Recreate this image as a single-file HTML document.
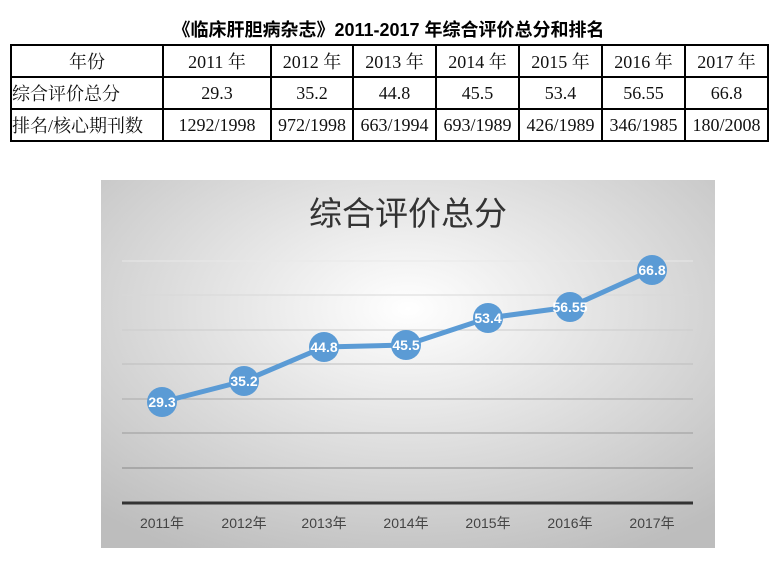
<!DOCTYPE html>
<html><head><meta charset="utf-8"><style>
body{margin:0;background:#fff;width:777px;height:565px;position:relative;overflow:hidden;font-family:"Liberation Serif","Noto Serif CJK SC",serif}
.title{position:absolute;left:0;width:777px;top:16px;text-align:center;font:bold 18px "Liberation Sans","Noto Sans CJK SC",sans-serif;color:#000}
table{position:absolute;left:10px;top:44px;border-collapse:collapse}
td{border:2px solid #000;height:30px;padding:0;text-align:center;font-size:18px;color:#111;white-space:nowrap;font-family:"Liberation Serif","Noto Serif CJK SC",serif}
td.h{text-align:left}
</style></head><body>
<div class="title">《临床肝胆病杂志》2011-2017 年综合评价总分和排名</div>
<table>
<tr><td style="width:150px;text-align:center">年份</td><td style="width:106px">2011 年</td><td style="width:80px">2012 年</td><td style="width:81px">2013 年</td><td style="width:81px">2014 年</td><td style="width:81px">2015 年</td><td style="width:81px">2016 年</td><td style="width:81px">2017 年</td></tr>
<tr><td class="h">综合评价总分</td><td>29.3</td><td>35.2</td><td>44.8</td><td>45.5</td><td>53.4</td><td>56.55</td><td>66.8</td></tr>
<tr><td class="h">排名/核心期刊数</td><td>1292/1998</td><td>972/1998</td><td>663/1994</td><td>693/1989</td><td>426/1989</td><td>346/1985</td><td>180/2008</td></tr>
</table>
<svg style="position:absolute;left:0;top:0" width="777" height="565">
<defs><radialGradient id="g" cx="0.5" cy="0.35" r="0.75"><stop offset="0" stop-color="#ffffff"/><stop offset="1" stop-color="#bdbdbd"/></radialGradient></defs>
<rect x="101" y="180" width="614" height="368" fill="url(#g)"/>
<g stroke="#9a9a9a" stroke-width="1">
<line x1="122" x2="693" y1="261" y2="261" stroke="#e8e8e8"/>
<line x1="122" x2="693" y1="295" y2="295" stroke="#d8d8d8"/>
<line x1="122" x2="693" y1="330" y2="330" stroke="#cccccc"/>
<line x1="122" x2="693" y1="364" y2="364" stroke="#bdbdbd"/>
<line x1="122" x2="693" y1="399" y2="399" stroke="#aaaaaa"/>
<line x1="122" x2="693" y1="433" y2="433"/>
<line x1="122" x2="693" y1="468" y2="468" stroke="#888"/>
</g>
<line x1="122" x2="693" y1="503" y2="503" stroke="#333" stroke-width="3"/>
<text x="408" y="225" text-anchor="middle" font-family="Liberation Sans,Noto Sans CJK SC,sans-serif" font-size="33" fill="#333">综合评价总分</text>
<polyline points="162,402 244,381 324,347 406,345 488,318 570,307 652,270" fill="none" stroke="#5b9bd5" stroke-width="5" stroke-linejoin="round"/>
<g fill="#5b9bd5"><circle cx="162" cy="402" r="15"/><circle cx="244" cy="381" r="15"/><circle cx="324" cy="347" r="15"/><circle cx="406" cy="345" r="15"/><circle cx="488" cy="318" r="15"/><circle cx="570" cy="307" r="15"/><circle cx="652" cy="270" r="15"/></g>
<g fill="#fff" font-family="Liberation Sans,sans-serif" font-weight="bold" font-size="14" text-anchor="middle">
<text x="162" y="407">29.3</text><text x="244" y="386">35.2</text><text x="324" y="352">44.8</text><text x="406" y="350">45.5</text><text x="488" y="323">53.4</text><text x="570" y="312">56.55</text><text x="652" y="275">66.8</text></g>
<g fill="#444" font-family="Liberation Sans,Noto Sans CJK SC,sans-serif" font-size="14" text-anchor="middle">
<text x="162" y="528">2011年</text><text x="244" y="528">2012年</text><text x="324" y="528">2013年</text><text x="406" y="528">2014年</text><text x="488" y="528">2015年</text><text x="570" y="528">2016年</text><text x="652" y="528">2017年</text></g>
</svg>
</body></html>
